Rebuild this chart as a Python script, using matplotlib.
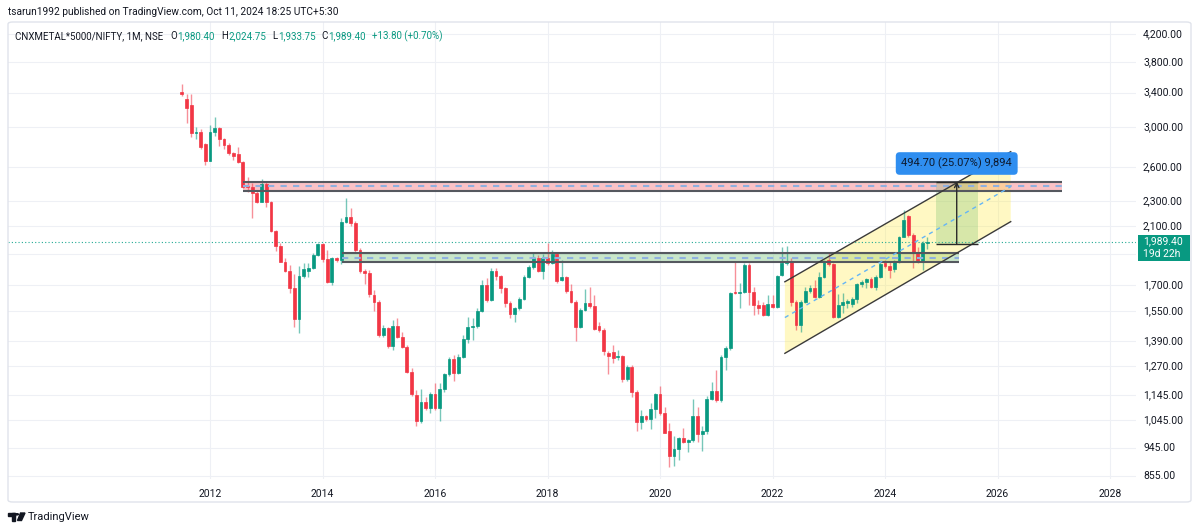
import numpy as np
import pandas as pd
import matplotlib
matplotlib.use("Agg")
import matplotlib.pyplot as plt
from matplotlib.patches import Rectangle, Polygon, Circle, FancyBboxPatch

plt.rcParams['font.family'] = ['Roboto', 'DejaVu Sans']

# ---------------- data (monthly candles, CNXMETAL*5000/NIFTY) ----------------
first_month = "2011-07-01"
opens = [3405, 3320, 3252, 2943, 2955, 2826, 2661, 2951, 2994, 2874,
         2819, 2733, 2723, 2652, 2432, 2423, 2367, 2296, 2447, 2291,
         2067, 1958, 1850, 1791, 1681, 1504, 1760, 1791, 1809, 1895,
         1970, 1869, 1718, 1877, 1862, 2134, 2176, 2129, 1930, 1791,
         1778, 1641, 1602, 1421, 1459, 1366, 1469, 1412, 1362, 1242,
         1145, 1043, 1118, 1092, 1149, 1094, 1169, 1233, 1302, 1241,
         1314, 1401, 1461, 1466, 1549, 1699, 1612, 1791, 1758, 1681,
         1596, 1531, 1568, 1618, 1749, 1813, 1877, 1791, 1873, 1840,
         1902, 1735, 1750, 1667, 1602, 1464, 1555, 1593, 1577, 1470,
         1447, 1333, 1335, 1312, 1319, 1212, 1265, 1159, 1037, 1062,
         1051, 1089, 1149, 1073, 1005, 920, 943, 982, 965, 973,
         1062, 996, 1006, 1128, 1163, 1125, 1314, 1356, 1660, 1651,
         1657, 1828, 1660, 1583, 1583, 1527, 1589, 1574, 1766, 1840,
         1850, 1602, 1473, 1602, 1667, 1681, 1631, 1753, 1860, 1835,
         1518, 1583, 1595, 1590, 1616, 1707, 1721, 1740, 1691, 1753,
         1838, 1822, 1800, 1850, 2025, 2181, 2037, 1918, 1857, 1980.40]
highs = [3508, 3384, 3384, 3008, 2980, 2833, 3026, 3111, 3008, 2891,
         2833, 2749, 2793, 2661, 2507, 2453, 2389, 2492, 2468, 2302,
         2074, 1977, 1873, 1828, 1770, 1822, 1844, 1844, 1910, 1981,
         1981, 1930, 1884, 1884, 2168, 2329, 2242, 2145, 1942, 1800,
         1796, 1671, 1612, 1473, 1464, 1500, 1509, 1434, 1371, 1261,
         1166, 1169, 1138, 1159, 1194, 1194, 1241, 1314, 1322, 1327,
         1421, 1518, 1509, 1564, 1732, 1743, 1807, 1807, 1764, 1687,
         1608, 1574, 1631, 1762, 1828, 1918, 1895, 1902, 1977, 1930,
         1911, 1862, 1760, 1706, 1612, 1564, 1677, 1691, 1641, 1491,
         1456, 1340, 1371, 1346, 1322, 1276, 1276, 1166, 1085, 1066,
         1114, 1152, 1184, 1098, 1034, 986, 985, 1016, 977, 1129,
         1098, 1025, 1139, 1201, 1253, 1322, 1365, 1660, 1850, 1711,
         1844, 1840, 1691, 1612, 1600, 1641, 1641, 1764, 1953, 1958,
         1873, 1612, 1612, 1691, 1701, 1732, 1785, 1862, 1906, 1840,
         1647, 1651, 1620, 1631, 1715, 1732, 1743, 1753, 1764, 1850,
         1862, 1850, 1862, 2030, 2228, 2189, 2054, 1953, 1990, 2024.75]
lows = [3360, 3051, 2901, 2874, 2773, 2623, 2655, 2909, 2806, 2773,
        2713, 2668, 2642, 2409, 2380, 2163, 2283, 2290, 2250, 2057,
        1925, 1846, 1785, 1651, 1464, 1433, 1743, 1750, 1805, 1888,
        1846, 1712, 1701, 1851, 1835, 2129, 2104, 1918, 1778, 1707,
        1630, 1551, 1412, 1410, 1355, 1346, 1404, 1355, 1238, 1142,
        1025, 1034, 1085, 1072, 1085, 1044, 1159, 1226, 1204, 1235,
        1310, 1380, 1396, 1456, 1545, 1602, 1606, 1732, 1655, 1574,
        1512, 1491, 1555, 1612, 1743, 1800, 1785, 1738, 1828, 1836,
        1711, 1725, 1651, 1593, 1392, 1456, 1551, 1564, 1447, 1438,
        1322, 1233, 1284, 1299, 1201, 1205, 1135, 1004, 1012, 1041,
        1012, 1053, 1066, 998, 884, 886, 907, 963, 932, 966,
        965, 937, 996, 1125, 1116, 1116, 1253, 1346, 1647, 1564,
        1651, 1583, 1527, 1531, 1522, 1522, 1564, 1568, 1760, 1828,
        1575, 1447, 1438, 1593, 1651, 1622, 1622, 1743, 1822, 1509,
        1512, 1536, 1564, 1574, 1593, 1691, 1681, 1681, 1671, 1743,
        1807, 1747, 1785, 1844, 2020, 2025, 1807, 1840, 1796, 1933.75]
closes = [3381, 3214, 2943, 2951, 2793, 2661, 2948, 2994, 2874, 2819,
          2733, 2707, 2652, 2418, 2423, 2367, 2296, 2447, 2291, 2067,
          1958, 1850, 1791, 1681, 1504, 1760, 1800, 1809, 1895, 1970,
          1869, 1718, 1877, 1862, 2134, 2176, 2129, 1930, 1791, 1778,
          1647, 1602, 1421, 1459, 1366, 1469, 1412, 1362, 1242, 1148,
          1043, 1118, 1092, 1149, 1094, 1169, 1233, 1302, 1241, 1314,
          1401, 1461, 1466, 1549, 1699, 1612, 1791, 1758, 1681, 1596,
          1531, 1568, 1618, 1749, 1813, 1877, 1791, 1873, 1840, 1902,
          1728, 1750, 1667, 1602, 1464, 1555, 1593, 1577, 1451, 1447,
          1343, 1319, 1307, 1319, 1212, 1265, 1159, 1037, 1062, 1051,
          1089, 1149, 1073, 1000, 920, 943, 982, 965, 973, 1062,
          996, 1006, 1128, 1163, 1125, 1314, 1356, 1654, 1651, 1657,
          1828, 1660, 1583, 1564, 1527, 1589, 1574, 1758, 1838, 1850,
          1602, 1473, 1602, 1667, 1681, 1631, 1753, 1850, 1835, 1518,
          1583, 1602, 1606, 1616, 1707, 1721, 1736, 1691, 1753, 1834,
          1822, 1796, 1850, 2025, 2150, 2037, 1918, 1857, 1975.6, 1989.40]

price_ticks = [4200, 3800, 3400, 3000, 2600, 2300, 2100, 1700, 1550, 1390,
               1270, 1145, 1045, 945, 855]
hidden_grid_price = [1900]
year_ticks = [2012, 2014, 2016, 2018, 2020, 2022, 2024, 2026, 2028]
last_price = 1989.40
countdown = "19d 22h"

# drawings (x in years, y in price)
resist_x = [2012.59, 2027.14]
resist_y = [2386, 2468]
support_x = [2014.35, 2025.32]
support_y = [1846, 1907]
channel_x = [2022.22, 2026.235]
channel_upper = [1721, 2749]
channel_lower = [1330, 2137]
range_x = [2024.90, 2025.65]
range_y = [1973.3, 2468.0]
range_label = "494.70 (25.07%) 9,894"

header1 = "tsarun1992 published on TradingView.com, Oct 11, 2024 18:25 UTC+5:30"
symbol_txt = "CNXMETAL*5000/NIFTY, 1M, NSE"
ohlc_items = [("O", "1,980.40"), ("H", "2,024.75"), ("L", "1,933.75"), ("C", "1,989.40")]
change_txt = "+13.80 (+0.70%)"

# ---------------- layout ----------------
W, H = 1200, 531
fig = plt.figure(figsize=(12, 5.31), dpi=100)
fig.patch.set_facecolor("white")

PL, PR, PT, PB = 8, 1136, 22, 479      # pane in pixels
FR, FB = 1191, 502                      # outer frame right / bottom


def fx(px):
    return px / W


def fy(py):
    return 1 - py / H


def year_of(px):
    return 2012 + (px - 210) / 56.25


def price_of(py):
    return 4200 * np.exp(-(py - 34) / 277.7)


ax = fig.add_axes([fx(PL), fy(PB), fx(PR) - fx(PL), fy(PT) - fy(PB)])
ax.set_yscale("log")
ylo, yhi = price_of(PB), price_of(PT)
ax.set_ylim(ylo, yhi)
ax.set_xlim(year_of(PL), year_of(PR))
for s in ax.spines.values():
    s.set_visible(False)
ax.yaxis.set_major_locator(matplotlib.ticker.NullLocator())
ax.yaxis.set_minor_locator(matplotlib.ticker.NullLocator())
ax.set_xticks(year_ticks)
ax.set_xticklabels([str(y) for y in year_ticks])
ax.tick_params(axis="x", length=0, pad=7, labelsize=7.5, labelcolor="#131722")

grid_c = "#eef0f5"
for p in price_ticks + hidden_grid_price:
    ax.axhline(p, color=grid_c, lw=0.8, zorder=0)
for yv in year_ticks:
    ax.axvline(yv, color=grid_c, lw=0.8, zorder=0)

# ---------------- candles ----------------
dates = pd.date_range(first_month, periods=len(opens), freq="MS")
xs = np.asarray(dates.year + (dates.month - 1) / 12.0, dtype=float)
o = np.array(opens, float)
h = np.array(highs, float)
l = np.array(lows, float)
c = np.array(closes, float)
up = c >= o
cols = np.where(up, "#089981", "#f23645")
ax.vlines(xs, l, h, colors=cols, lw=1.0, alpha=0.55, zorder=3)
ax.bar(xs, np.abs(c - o), bottom=np.minimum(o, c), width=0.05, color=cols,
       edgecolor=cols, linewidth=0.5, zorder=4)

# ---------------- drawings ----------------
border_c = "#55585f"
mid_c = "#8fb0e0"


def zone(xr, yr, fc):
    ax.add_patch(Rectangle((xr[0], yr[0]), xr[1] - xr[0], yr[1] - yr[0],
                           facecolor=fc, edgecolor="none", zorder=1))
    ax.hlines(yr, xr[0], xr[1], colors=border_c, lw=1.5, zorder=6)
    ax.plot(xr, [np.sqrt(yr[0] * yr[1])] * 2, color=mid_c, lw=1.5,
            ls=(0, (3, 3)), zorder=6)


zone(resist_x, resist_y, (0.949, 0.212, 0.271, 0.30))
zone(support_x, support_y, (0.298, 0.686, 0.314, 0.30))

# parallel channel
poly = Polygon([(channel_x[0], channel_upper[0]), (channel_x[1], channel_upper[1]),
                (channel_x[1], channel_lower[1]), (channel_x[0], channel_lower[0])],
               closed=True, facecolor=(1.0, 0.922, 0.231, 0.30), edgecolor="none", zorder=1)
ax.add_patch(poly)
ax.plot(channel_x, channel_upper, color="#3a3a3a", lw=1.0, zorder=7)
ax.plot(channel_x, channel_lower, color="#3a3a3a", lw=1.0, zorder=7)
mid_y = [np.sqrt(channel_upper[i] * channel_lower[i]) for i in range(2)]
ax.plot(channel_x, mid_y, color="#64b5f6", lw=1.0, ls=(0, (3, 3)), zorder=7)

# price range measurement
ax.add_patch(Rectangle((range_x[0], range_y[0]), range_x[1] - range_x[0],
                       range_y[1] - range_y[0], facecolor=(0.298, 0.686, 0.314, 0.22),
                       edgecolor="none", zorder=2))
ax.hlines(range_y, range_x[0], range_x[1], colors="#2a2a2a", lw=1.0, zorder=8)
xm = (range_x[0] + range_x[1]) / 2
ax.annotate("", xy=(xm, range_y[1]), xytext=(xm, range_y[0]),
            arrowprops=dict(arrowstyle="->", color="#2a2a2a", lw=1.0,
                            shrinkA=0, shrinkB=0, mutation_scale=8), zorder=8)
ax.text(xm, price_of(163.5), range_label, ha="center", va="center", fontsize=8,
        color="#0e1a2e", zorder=9,
        bbox=dict(boxstyle="round,pad=0.5,rounding_size=0.35", fc="#2f8ef0", ec="none"))

# last price line
ax.axhline(last_price, color="#22ab94", lw=0.8, ls=(0, (1, 2)), zorder=2)

# ---------------- price scale ----------------
ax2 = fig.add_axes([fx(PR), fy(PB), fx(FR) - fx(PR), fy(PT) - fy(PB)], sharey=ax)
ax2.set_axis_off()
ax2.set_xlim(0, 1)
for p in price_ticks:
    ax2.text(7 / 55, p, f"{p:,.2f}", fontsize=7.5, color="#131722",
             va="center", ha="left", clip_on=True)
ax2.add_patch(Rectangle((1.5 / 55, price_of(260.5)), 52.5 / 55,
                        price_of(234.5) - price_of(260.5), facecolor="#089981",
                        edgecolor="none", zorder=5))
ax2.text(7 / 55, last_price, f"{last_price:,.2f}", fontsize=7.5, color="white",
         va="center", ha="left", zorder=6)
ax2.text(7 / 55, price_of(253.5), countdown, fontsize=7.5, color="white",
         va="center", ha="left", zorder=6)

# ---------------- frame & texts ----------------
fig.add_artist(FancyBboxPatch((fx(PL), fy(FB)), fx(FR) - fx(PL), fy(PT) - fy(FB),
                              boxstyle="round,pad=0,rounding_size=0.004",
                              transform=fig.transFigure, fill=False,
                              edgecolor="#e0e3eb", lw=1.0))

fig.text(fx(8), fy(12), header1, fontsize=7.3, color="#131722", va="center", ha="left")

renderer = fig.canvas.get_renderer()
fs2 = 7.0
t = fig.text(fx(15), fy(36), symbol_txt, fontsize=fs2, color="#131722",
             va="center", ha="left")
cur = t.get_window_extent(renderer).x1 + 7
for lab, val in ohlc_items:
    tl = fig.text(cur / W, fy(36), lab, fontsize=fs2, color="#131722",
                  va="center", ha="left")
    cur = tl.get_window_extent(renderer).x1 + 0.5
    tv = fig.text(cur / W, fy(36), val, fontsize=fs2, color="#089981",
                  va="center", ha="left")
    cur = tv.get_window_extent(renderer).x1 + 6
fig.text(cur / W, fy(36), change_txt, fontsize=fs2, color="#089981",
         va="center", ha="left")

# TradingView logo + text
logo_c = "#131722"
fig.add_artist(Rectangle((fx(8), fy(515.5)), fx(6.5) - fx(0), fy(513) - fy(515.5),
                         transform=fig.transFigure, color=logo_c))
fig.add_artist(Rectangle((fx(11.5), fy(520.5)), fx(3) - fx(0), fy(513) - fy(520.5),
                         transform=fig.transFigure, color=logo_c))
fig.add_artist(Circle((fx(17), fy(514.3)), 1.4 / W, transform=fig.transFigure,
                      color=logo_c))
fig.add_artist(Polygon([(fx(20.5), fy(513)), (fx(25), fy(513)), (fx(21.5), fy(520.5)),
                        (fx(17.5), fy(520.5))], closed=True, transform=fig.transFigure,
                       color=logo_c))
fig.text(fx(28), fy(517), "TradingView", fontsize=8, color="#131722",
         va="center", ha="left")

fig.savefig("out.png", dpi=100, facecolor="white")
